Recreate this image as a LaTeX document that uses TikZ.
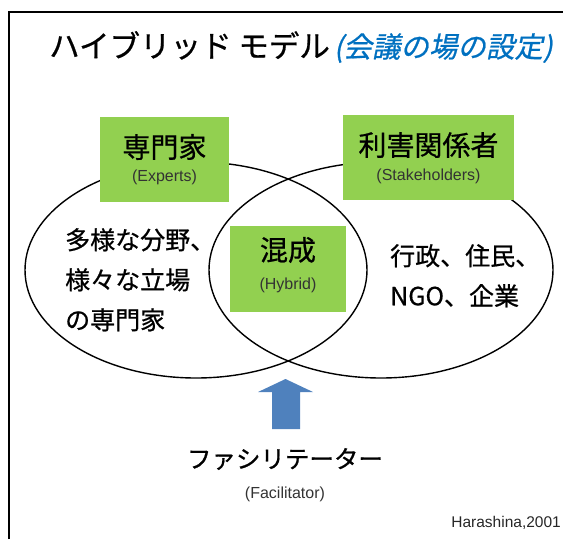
\documentclass[tikz,border=0pt]{standalone}
\usepackage{fontspec}
\setmainfont{Noto Sans CJK JP}
\newfontfamily\cjk[FakeBold=0.7]{Noto Sans CJK JP}
\newfontfamily\cjkslant[FakeSlant=0.2,FakeBold=0.7]{Noto Sans CJK JP}
\newfontfamily\latin{Liberation Sans}
\definecolor{boxgreen}{HTML}{92D050}
\definecolor{titleblue}{HTML}{0070C0}
\definecolor{arrowblue}{HTML}{4F81BD}
\tikzset{
  greenbox/.style={fill=boxgreen, draw=none, inner sep=0pt},
  bigtext/.style={font=\cjk\fontsize{28}{32}\selectfont, inner sep=0pt},
  smalltext/.style={font=\latin\fontsize{16}{18}\selectfont, text=black!80, inner sep=0pt},
  bodytext/.style={font=\cjk\fontsize{25}{40}\selectfont, inner sep=0pt, align=left},
  venn/.style={draw=black, line width=1.4pt},
}
\begin{document}
\begin{tikzpicture}[x=1pt,y=-1pt]
\useasboundingbox (0,0) rectangle (573,539);
% frame
\draw[line width=2.8pt] (9,539) -- (9,12) -- (563,12);
% title
\node[anchor=west, inner sep=0pt, font=\cjk\fontsize{30.5}{34}\selectfont] (title) at (49,47)
  {ハイブリッド モデル\hspace{4pt}{\color{titleblue}\cjkslant\fontsize{28.5}{30}\selectfont(会議の場の設定)}};
% ellipses
\draw[venn] (196,270) ellipse [x radius=171, y radius=108];
\draw[venn] (381,270) ellipse [x radius=172, y radius=108];
% boxes
\node[greenbox, minimum width=129pt, minimum height=85pt] (experts) at (164.5,159.5) {};
\node[greenbox, minimum width=171pt, minimum height=85pt] (stake) at (428.5,157.5) {};
\node[greenbox, minimum width=116pt, minimum height=86pt] (hybrid) at (288,269) {};
\node[bigtext] (expertsJ) at (164.5,147) {専門家};
\node[smalltext] (expertsE) at (164.5,177) {(Experts)};
\node[bigtext] (stakeJ) at (428.5,145) {利害関係者};
\node[smalltext] (stakeE) at (428.5,176) {(Stakeholders)};
\node[bigtext] (hybridJ) at (288,250) {混成};
\node[smalltext] (hybridE) at (288,285) {(Hybrid)};
% body texts
\node[bodytext, anchor=north west] (lefttext) at (65,228) {多様な分野、\\様々な立場\\の専門家};
\node[bodytext, anchor=north west] (righttext) at (390,244) {行政、住民、\\NGO、企業};
% arrow
\fill[arrowblue] (272,429) -- (272,392) -- (258,392) -- (285.5,379) -- (313,392) -- (300,392) -- (300,429) -- cycle;
% facilitator
\node[inner sep=0pt, font=\cjk\fontsize{24.5}{30}\selectfont] (facJ) at (285,459) {ファシリテーター};
\node[smalltext] (facE) at (285,494) {(Facilitator)};
\node[anchor=east, inner sep=0pt, font=\latin\fontsize{15.5}{17}\selectfont, text=black!85] (cite) at (561,523) {Harashina,2001};
\end{tikzpicture}
\end{document}
